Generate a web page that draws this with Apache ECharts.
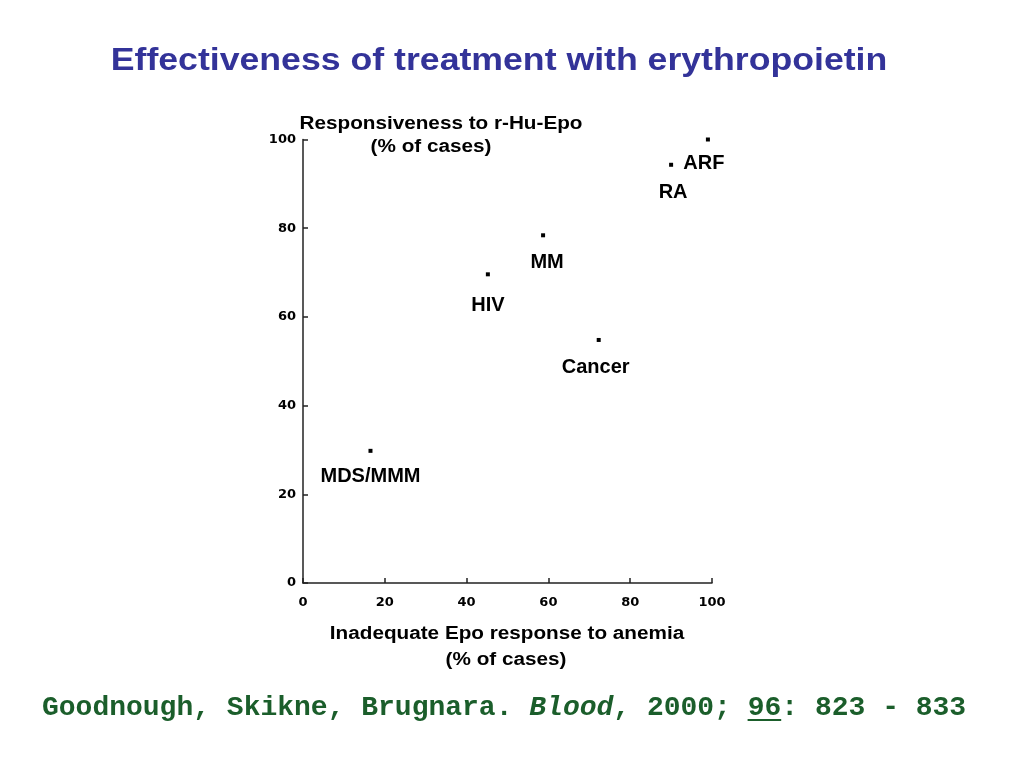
<!DOCTYPE html>
<html>
<head>
<meta charset="utf-8">
<script src="https://cdn.jsdelivr.net/npm/echarts@6/dist/echarts.min.js"></script>
<style>html,body{margin:0;padding:0;background:#fff;}#c{width:1024px;height:768px;}</style>
</head>
<body>
<div id="c"></div>
<script>
// ---- data ----
var conditions = ['ARF', 'RA', 'MM', 'HIV', 'Cancer', 'MDS/MMM'];
var inadequateResponse = [99, 90, 58.7, 45.2, 72.3, 16.5];   // x, % of cases
var responsiveness    = [100, 94.3, 78.4, 69.6, 54.8, 29.8]; // y, % of cases
var xTicks = [0, 20, 40, 60, 80, 100];
var yTicks = [0, 20, 40, 60, 80, 100];
var titleText = 'Effectiveness of treatment with erythropoietin';
var yName = ['Responsiveness to r-Hu-Epo', '(% of cases)'];
var xName = ['Inadequate Epo response to anemia', '(% of cases)'];

// ---- styling ----
var labelOffsets = [[-4, 24], [2, 28], [4, 27], [0, 31], [-3, 28], [0, 26]];
var chart = echarts.init(document.getElementById('c'));
var pts = conditions.map(function (n, i) {
  return {
    name: n,
    value: [inadequateResponse[i], responsiveness[i]],
    label: { offset: labelOffsets[i] }
  };
});
var footFont = 28, footX = 42, footY = 708, cw = footFont * 0.6;
var footer = 'Goodnough, Skikne, Brugnara. Blood, 2000; 96: 823 - 833';
var uStart = footer.indexOf('96');
var axisLab = { color: '#000', fontFamily: 'DejaVu Sans', fontWeight: 'bold', fontSize: 13 };
var nameFont = 'bold 18px "Liberation Sans", Arial';
function nameText(t, x, y) {
  return { type: 'text', x: x, y: y, scaleX: 1.15,
    style: { text: t, fill: '#000', textAlign: 'center', textVerticalAlign: 'middle', font: nameFont } };
}
chart.setOption({
  backgroundColor: '#fff',
  animation: false,
  grid: { left: 303, right: 312, top: 139.5, bottom: 185 },
  xAxis: {
    type: 'value', min: xTicks[0], max: xTicks[xTicks.length - 1], interval: 20,
    axisLine: { lineStyle: { color: '#222', width: 1.5 } },
    axisTick: { inside: true, length: 5, lineStyle: { color: '#222', width: 1.5 } },
    splitLine: { show: false },
    axisLabel: Object.assign({ margin: 13 }, axisLab)
  },
  yAxis: {
    type: 'value', min: yTicks[0], max: yTicks[yTicks.length - 1], interval: 20,
    axisLine: { lineStyle: { color: '#222', width: 1.5 } },
    axisTick: { inside: true, length: 5, lineStyle: { color: '#222', width: 1.5 } },
    splitLine: { show: false },
    axisLabel: Object.assign({ margin: 7 }, axisLab)
  },
  series: [{
    type: 'scatter',
    symbol: 'rect',
    symbolSize: 4,
    itemStyle: { color: '#000', opacity: 1 },
    data: pts,
    label: {
      show: true, position: 'inside', formatter: '{b}',
      color: '#000', fontFamily: 'Liberation Sans', fontWeight: 'bold', fontSize: 20
    }
  }],
  graphic: [
    { type: 'text', x: 499, y: 61, scaleX: 1.15,
      style: { text: titleText, fill: '#333399', textAlign: 'center', textVerticalAlign: 'middle',
               font: 'bold 31px "Liberation Sans", Arial, sans-serif' } },
    nameText(yName[0], 441, 124),
    nameText(yName[1], 431, 147),
    nameText(xName[0], 507, 634),
    nameText(xName[1], 506, 660),
    { type: 'text', x: footX, y: footY,
      style: {
        text: 'Goodnough, Skikne, Brugnara. {i|Blood}, 2000; 96: 823 - 833',
        textVerticalAlign: 'middle',
        fill: '#1b5e2b',
        font: 'bold ' + footFont + 'px "Liberation Mono", "Courier New", monospace',
        rich: { i: { fontStyle: 'italic', fontWeight: 'bold', fontSize: footFont, fontFamily: 'Liberation Mono', fill: '#1b5e2b', color: '#1b5e2b' } }
      } },
    { type: 'line', shape: { x1: footX + uStart * cw, y1: footY + 12, x2: footX + (uStart + 2) * cw, y2: footY + 12 },
      style: { stroke: '#1b5e2b', lineWidth: 2 } }
  ]
});
</script>
</body>
</html>
